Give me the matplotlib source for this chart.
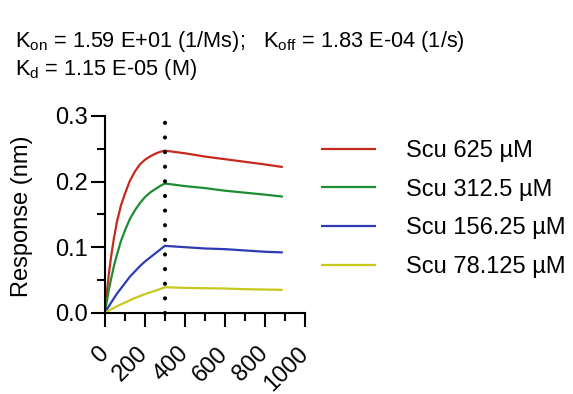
import matplotlib.pyplot as plt
from matplotlib.transforms import ScaledTranslation

plt.rcParams["font.family"] = ["Liberation Sans", "DejaVu Sans"]
plt.rcParams["mathtext.fontset"] = "custom"
plt.rcParams["mathtext.rm"] = "Liberation Sans"

# time points (s): association 0-300, dissociation 300-890
time_s = [0, 10, 20, 30, 45, 60, 80, 100, 125, 150, 175, 200, 225, 250, 275, 300,
          400, 500, 600, 700, 800, 890]

resp_625 = [0, 0.031, 0.059, 0.083, 0.113, 0.138, 0.163, 0.181, 0.201, 0.215, 0.226,
            0.233, 0.238, 0.242, 0.245, 0.247,
            0.243, 0.238, 0.234, 0.230, 0.226, 0.222]
resp_312 = [0, 0.018, 0.035, 0.050, 0.071, 0.088, 0.109, 0.125, 0.143, 0.156, 0.167,
            0.176, 0.183, 0.188, 0.193, 0.197,
            0.193, 0.190, 0.186, 0.183, 0.180, 0.177]
resp_156 = [0, 0.005, 0.010, 0.015, 0.022, 0.029, 0.037, 0.045, 0.055, 0.063, 0.071,
            0.078, 0.084, 0.090, 0.096, 0.102,
            0.100, 0.098, 0.097, 0.095, 0.093, 0.092]
resp_78 = [0, 0.0017, 0.0034, 0.005, 0.0075, 0.010, 0.0128, 0.0157, 0.019, 0.0225,
           0.0255, 0.0285, 0.031, 0.0335, 0.036, 0.039,
           0.038, 0.0375, 0.037, 0.036, 0.0355, 0.035]

labels = ["Scu 625 µM", "Scu 312.5 µM", "Scu 156.25 µM", "Scu 78.125 µM"]
colors = ["#c42a1e", "#1e8c32", "#2e3cb4", "#c8c81e"]
series = [resp_625, resp_312, resp_156, resp_78]

x_major = [0, 200, 400, 600, 800, 1000]
x_minor = [100, 300, 500, 700, 900]
y_major = [0.0, 0.1, 0.2, 0.3]
y_minor = [0.05, 0.15, 0.25]

fig = plt.figure(figsize=(5.73, 3.94), dpi=100)
ax = fig.add_axes([0.183, 0.206, 0.349, 0.5])

for vals, col, lab in zip(series, colors, labels):
    ax.plot(time_s, vals, color=col, lw=1.6, label=lab, solid_capstyle="butt")

# end of association phase
ax.plot([300, 300], [0, 0.3], color="black", lw=3.0,
        linestyle=(0, (0.01, 3.5)), dash_capstyle="round", zorder=3,
        clip_on=False)

ax.set_xlim(0, 1000)
ax.set_ylim(0, 0.3)
ax.set_xticks(x_major, [str(v) for v in x_major], rotation=45, ha="right",
              va="center", rotation_mode="anchor")
ax.set_xticks(x_minor, minor=True)
ax.set_yticks(y_major, ["%.1f" % v for v in y_major])
ax.set_yticks(y_minor, minor=True)
shift = ScaledTranslation(2.5 / 72, 0, fig.dpi_scale_trans)
for lbl in ax.get_xticklabels():
    lbl.set_transform(lbl.get_transform() + shift)

for side in ["top", "right"]:
    ax.spines[side].set_visible(False)
for side in ["left", "bottom"]:
    ax.spines[side].set_linewidth(1.5)
ax.tick_params(which="major", direction="out", length=10, width=1.5,
               labelsize=17)
ax.tick_params(which="minor", direction="out", length=5.5, width=1.5)
ax.tick_params(axis="y", pad=2)
ax.tick_params(axis="x", pad=17)
ax.set_ylabel("Response (nm)", fontsize=17)
ax.yaxis.set_label_coords(-0.36, 0.49)

ax.legend(loc="upper left", bbox_to_anchor=(0.561, 0.645),
          bbox_transform=fig.transFigure, frameon=False,
          fontsize=17, handlelength=2.3, handletextpad=1.3,
          labelspacing=0.71, borderaxespad=0, borderpad=0)

fig.text(0.027, 0.88,
         r"K$_\mathrm{on}$ = 1.59 E+01 (1/Ms);   K$_\mathrm{off}$ = 1.83 E-04 (1/s)",
         fontsize=15.7, va="baseline")
fig.text(0.027, 0.81, r"K$_\mathrm{d}$ = 1.15 E-05 (M)", fontsize=15.7,
         va="baseline")

fig.savefig("out.png", dpi=100)
